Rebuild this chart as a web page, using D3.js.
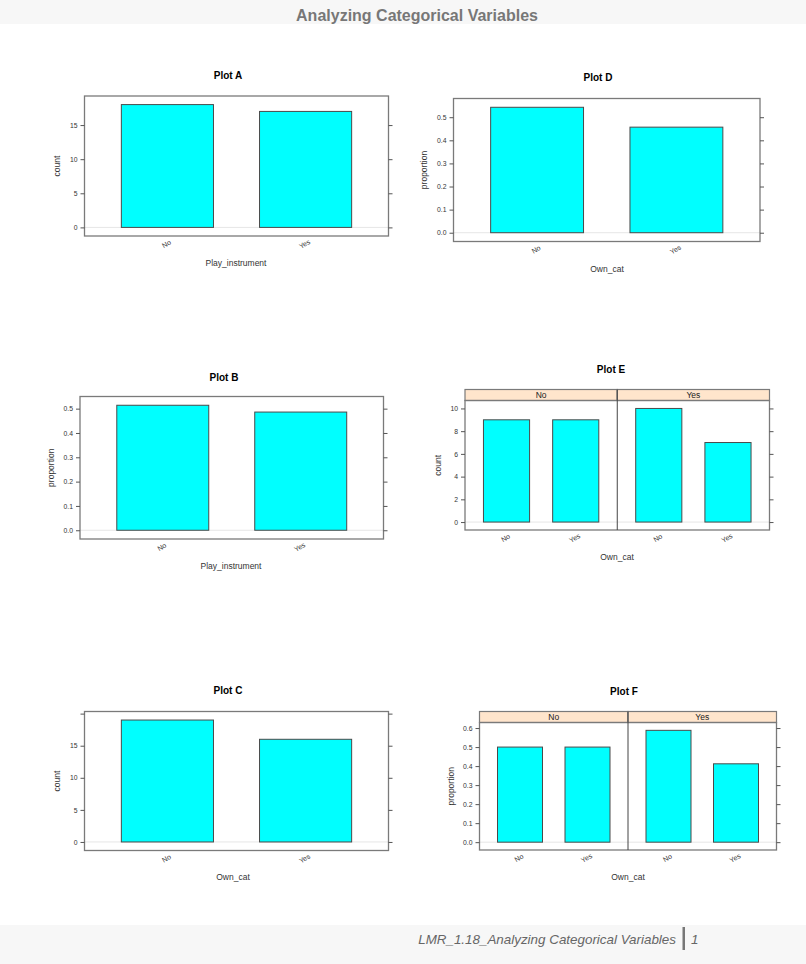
<!DOCTYPE html>
<html><head><meta charset="utf-8">
<script src="https://cdn.jsdelivr.net/npm/d3@7/dist/d3.min.js"></script>
<style>
body{margin:0;background:#fff;}
svg{display:block;font-family:"Liberation Sans",Arial,Helvetica,sans-serif;}
</style>
</head><body>
<svg id="c" width="806" height="964"></svg>
<script>
// ---------------- DATA ----------------
const categories = ["No", "Yes"];
const stripLevels = ["No", "Yes"];

const plotA_count = [18, 17];          // Play_instrument counts
const plotB_prop  = [0.514, 0.486];    // Play_instrument proportions
const plotC_count = [19, 16];          // Own_cat counts
const plotD_prop  = [0.543, 0.457];    // Own_cat proportions
const plotE_count = [[9, 9], [10, 7]]; // Own_cat counts by Play_instrument panel
const plotF_prop  = [[0.5, 0.5], [0.588, 0.412]]; // Own_cat proportions by panel

const ticksCountA = [0, 5, 10, 15];
const tickLabelsCountA = ["0", "5", "10", "15"];
const ticksCountC = [0, 5, 10, 15, 20];
const tickLabelsCountC = ["0", "5", "10", "15", ""];
const ticksProp5 = [0, 0.1, 0.2, 0.3, 0.4, 0.5];
const tickLabelsProp5 = ["0.0", "0.1", "0.2", "0.3", "0.4", "0.5"];
const ticksProp6 = [0, 0.1, 0.2, 0.3, 0.4, 0.5, 0.6];
const tickLabelsProp6 = ["0.0", "0.1", "0.2", "0.3", "0.4", "0.5", "0.6"];
const ticksCountE = [0, 2, 4, 6, 8, 10];
const tickLabelsCountE = ["0", "2", "4", "6", "8", "10"];

const pageTitle = "Analyzing Categorical Variables";
const footerText = "LMR_1.18_Analyzing Categorical Variables";
const pageNumber = "1";

// ---------------- DRAW ----------------
const svg = d3.select("#c");

// header / footer bands
svg.append("rect").attr("x", 0).attr("y", 0).attr("width", 806).attr("height", 24).attr("fill", "#f7f7f7");
svg.append("rect").attr("x", 0).attr("y", 925).attr("width", 806).attr("height", 39).attr("fill", "#f7f7f7");

svg.append("text").attr("x", 417).attr("y", 20.5).attr("text-anchor", "middle")
  .attr("font-size", 16).attr("font-weight", "bold").attr("fill", "#777").text(pageTitle);

svg.append("text").attr("x", 676).attr("y", 944).attr("text-anchor", "end")
  .attr("font-size", 13.4).attr("font-style", "italic").attr("fill", "#666").text(footerText);
svg.append("rect").attr("x", 682.5).attr("y", 927).attr("width", 2.5).attr("height", 23).attr("fill", "#777");
svg.append("text").attr("x", 691).attr("y", 944)
  .attr("font-size", 13.4).attr("font-style", "italic").attr("fill", "#666").text(pageNumber);

const STRIP_H = 11;
const BORDER = "#7a7a7a";

function drawPlot(cfg) {
  const g = svg.append("g");
  const { x0, x1, top, bottom } = cfg.box;
  const hasStrip = cfg.panels.length > 1;
  const panelTop = top + (hasStrip ? STRIP_H : 0);
  const maxV = d3.max(cfg.panels.flatMap(p => p.values));
  const pad = 0.07 * maxV;
  const y = d3.scaleLinear().domain([-pad, maxV + pad]).range([bottom, panelTop]);
  const pw = (x1 - x0) / cfg.panels.length;

  cfg.panels.forEach((p, i) => {
    const px0 = x0 + i * pw, px1 = px0 + pw;
    const x = d3.scaleBand().domain(categories).range([px0, px1])
      .paddingInner(1 / 3).paddingOuter(4 / 15);
    // reference line at zero
    g.append("line").attr("x1", px0).attr("x2", px1)
      .attr("y1", y(0)).attr("y2", y(0)).attr("stroke", "#e6e6e6").attr("stroke-width", 1);
    // bars
    g.selectAll(null).data(p.values.map((v, k) => ({ c: categories[k], v })))
      .join("rect")
      .attr("x", d => x(d.c)).attr("width", x.bandwidth())
      .attr("y", d => y(d.v)).attr("height", d => y(0) - y(d.v))
      .attr("fill", "#00ffff").attr("stroke", "#4a4a4a").attr("stroke-width", 1);
    // x tick labels (rotated)
    g.selectAll(null).data(categories).join("text")
      .attr("transform", d => `translate(${x(d) + x.bandwidth() / 2 - 1},${bottom + 8}) rotate(-30)`)
      .attr("text-anchor", "middle").attr("dy", "0.35em")
      .attr("font-size", 7).attr("fill", "#333").text(d => d);
    // strip
    if (hasStrip) {
      g.append("rect").attr("x", px0).attr("y", top).attr("width", pw).attr("height", STRIP_H)
        .attr("fill", "#ffe5cc").attr("stroke", BORDER).attr("stroke-width", 1.2);
      g.append("text").attr("x", (px0 + px1) / 2).attr("y", top + STRIP_H / 2).attr("dy", "0.35em")
        .attr("text-anchor", "middle").attr("font-size", 8.5).attr("fill", "#222").text(p.label);
    }
  });

  // panel border(s)
  g.append("rect").attr("x", x0).attr("y", panelTop).attr("width", x1 - x0).attr("height", bottom - panelTop)
    .attr("fill", "none").attr("stroke", BORDER).attr("stroke-width", 1.3);
  for (let i = 1; i < cfg.panels.length; i++) {
    g.append("line").attr("x1", x0 + i * pw).attr("x2", x0 + i * pw)
      .attr("y1", top).attr("y2", bottom).attr("stroke", "#444").attr("stroke-width", 1);
  }

  // y axes
  const left = g.append("g").attr("transform", `translate(${x0},0)`)
    .call(d3.axisLeft(y).tickValues(cfg.ticks).tickFormat((d, i) => cfg.tickLabels[i]).tickSize(4).tickPadding(3));
  const right = g.append("g").attr("transform", `translate(${x1},0)`)
    .call(d3.axisRight(y).tickValues(cfg.ticks).tickFormat("").tickSize(4));
  [left, right].forEach(a => {
    a.select(".domain").remove();
    a.selectAll(".tick line").attr("stroke", "#555");
    a.selectAll(".tick text").attr("font-size", 6.8).attr("fill", "#333")
      .attr("font-family", "'Liberation Sans',Arial,sans-serif");
  });

  // titles & labels
  g.append("text").attr("x", cfg.title[0]).attr("y", cfg.title[1]).attr("text-anchor", "middle")
    .attr("dy", "0.35em").attr("font-size", 10).attr("font-weight", "bold").attr("fill", "#000").text(cfg.name);
  g.append("text").attr("x", cfg.xlab[0]).attr("y", cfg.xlab[1]).attr("text-anchor", "middle")
    .attr("dy", "0.35em").attr("font-size", 8.5).attr("fill", "#333").text(cfg.xlabel);
  g.append("text").attr("transform", `translate(${cfg.ylabX},${(panelTop + bottom) / 2}) rotate(-90)`)
    .attr("text-anchor", "middle").attr("dy", "0.35em").attr("font-size", 8.5).attr("fill", "#333").text(cfg.ylabel);
}

drawPlot({ name: "Plot A", box: { x0: 84.5, x1: 388.5, top: 96, bottom: 236 },
  panels: [{ values: plotA_count }], ticks: ticksCountA, tickLabels: tickLabelsCountA,
  title: [228, 75], xlab: [236, 263], xlabel: "Play_instrument", ylabX: 57, ylabel: "count" });

drawPlot({ name: "Plot B", box: { x0: 80, x1: 383.5, top: 396.5, bottom: 539 },
  panels: [{ values: plotB_prop }], ticks: ticksProp5, tickLabels: tickLabelsProp5,
  title: [224, 377], xlab: [231, 566], xlabel: "Play_instrument", ylabX: 51, ylabel: "proportion" });

drawPlot({ name: "Plot C", box: { x0: 84.5, x1: 388.5, top: 711.5, bottom: 850.5 },
  panels: [{ values: plotC_count }], ticks: ticksCountC, tickLabels: tickLabelsCountC,
  title: [228, 690], xlab: [233, 877], xlabel: "Own_cat", ylabX: 57, ylabel: "count" });

drawPlot({ name: "Plot D", box: { x0: 453.5, x1: 760, top: 98.5, bottom: 241.5 },
  panels: [{ values: plotD_prop }], ticks: ticksProp5, tickLabels: tickLabelsProp5,
  title: [598, 77], xlab: [607, 269], xlabel: "Own_cat", ylabX: 424, ylabel: "proportion" });

drawPlot({ name: "Plot E", box: { x0: 465, x1: 769.5, top: 389.5, bottom: 530 },
  panels: stripLevels.map((s, i) => ({ label: s, values: plotE_count[i] })),
  ticks: ticksCountE, tickLabels: tickLabelsCountE,
  title: [611, 369], xlab: [617, 557], xlabel: "Own_cat", ylabX: 438, ylabel: "count" });

drawPlot({ name: "Plot F", box: { x0: 479.5, x1: 776.5, top: 711.5, bottom: 850 },
  panels: stripLevels.map((s, i) => ({ label: s, values: plotF_prop[i] })),
  ticks: ticksProp6, tickLabels: tickLabelsProp6,
  title: [624, 691], xlab: [628, 877], xlabel: "Own_cat", ylabX: 451, ylabel: "proportion" });
</script>
</body></html>
